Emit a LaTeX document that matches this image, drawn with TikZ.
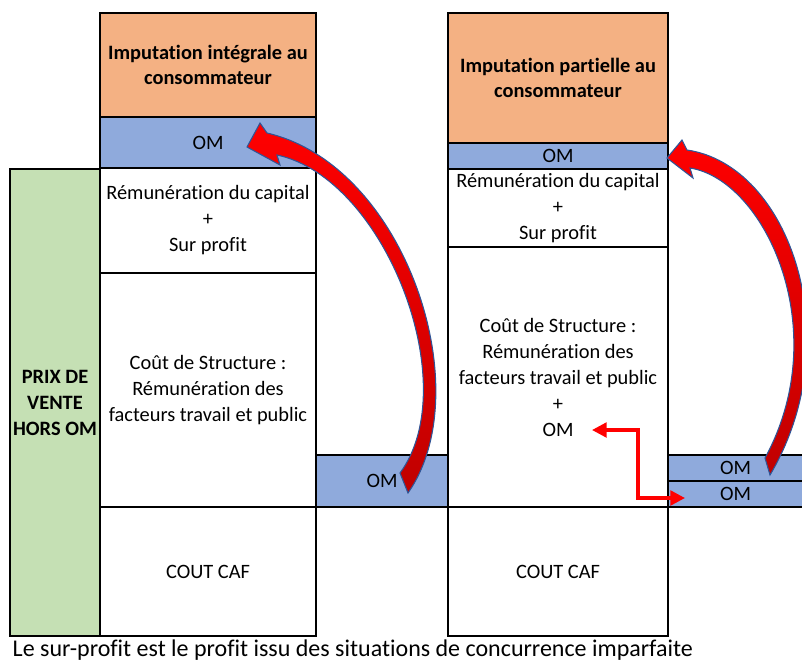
\documentclass[tikz,border=0pt]{standalone}
\usepackage{fontspec}
\setmainfont{Carlito}[Ligatures=NoCommon]
\usetikzlibrary{arrows.meta}
\definecolor{orangeclair}{HTML}{F4B183}
\definecolor{bleuom}{HTML}{8FAADC}
\definecolor{vertclair}{HTML}{C5E0B4}
\definecolor{rougefonce}{HTML}{C00000}
\definecolor{bleucontour}{HTML}{2F5597}

\begin{document}
\begin{tikzpicture}[x=0.75pt, y=-0.75pt,
  taille/.style 2 args={minimum width={#1*0.75pt}, minimum height={#2*0.75pt}},
  bloc/.style={draw=black, line width=0.8pt, inner sep=0pt, align=center, font=\fontsize{15.3}{19.5}\selectfont},
  titre/.style={bloc, fill=orangeclair, font=\bfseries\fontsize{15.3}{18.5}\selectfont},
  om/.style={bloc, fill=bleuom},
  fleche/.style={red, line width=2.5pt, {Triangle[length=11pt,width=11pt]}-{Triangle[length=11pt,width=11pt]}},
  courbe/.style={draw=bleucontour, line width=0.8pt, top color=red, bottom color=rougefonce}]
\clip (0,0) rectangle (802,665);
% imputation integrale
\node[titre, taille={216}{104}] (titreA) at (208,65) {Imputation intégrale au\\consommateur};
\node[om, taille={216}{51}] (omA) at (208,142.5) {OM};
\node[bloc, taille={216}{105}] (capA) at (208,220.5) {Rémunération du capital\\+\\Sur profit};
\node[bloc, taille={216}{234}] (structA) at (208,390) {Coût de Structure :\\Rémunération des\\facteurs travail et public};
\node[bloc, taille={216}{129}] (cafA) at (208,571.5) {COUT CAF};
\node[bloc, taille={90}{467}, fill=vertclair, font=\bfseries\fontsize{15.3}{19.5}\selectfont] (prix) at (55,402.5) {PRIX DE\\VENTE\\HORS OM};
\node[om, taille={132}{52}] (omA2) at (382,481) {OM};
% imputation partielle
\node[titre, taille={220}{130}] (titreB) at (558,78) {Imputation partielle au\\consommateur};
\node[om, taille={220}{26}] (omB) at (558,156) {OM};
\node[bloc, taille={220}{78}] (capB) at (558,208) {Rémunération du capital\\+\\Sur profit};
\node[bloc, taille={220}{260}] (structB) at (558,377) {Coût de Structure :\\Rémunération des\\facteurs travail et public\\+\\OM};
\node[bloc, taille={220}{129}] (cafB) at (558,571.5) {COUT CAF};
\node[om, taille={135}{26}] (omC) at (735.5,468) {OM};
\node[om, taille={135}{26}] (omD) at (735.5,494) {OM};
% fleches courbes
\path[courbe] (267,133) -- (260,123) -- (247,147) -- (280,165) -- (277,155)
  .. controls (385,178) and (465,385) .. (400,473) -- (408,493)
  .. controls (480,390) and (405,165) .. (267,133) -- cycle;
\path[courbe] (687,150) -- (682,140) -- (667,158) -- (693,178) -- (690,168)
  .. controls (765,180) and (835,330) .. (765,458) -- (770,475)
  .. controls (850,340) and (790,165) .. (687,150) -- cycle;
% fleche coudee
\coordinate (depart) at (592,430);
\coordinate (arrivee) at (685,498);
\draw[fleche] (depart) -| (638,498) -- (arrivee);
\node[anchor=west, font=\fontsize{18}{22}\selectfont] (note) at (8,650) {Le sur-profit est le profit issu des situations de concurrence imparfaite};
\end{tikzpicture}
\end{document}
